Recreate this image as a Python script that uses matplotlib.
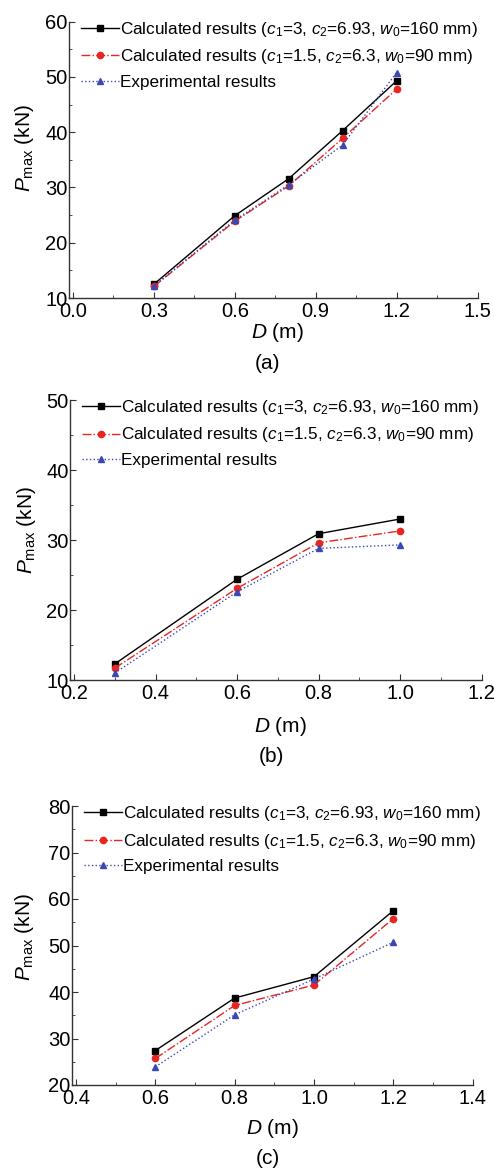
import matplotlib
matplotlib.use('Agg')
import matplotlib.pyplot as plt
from matplotlib.ticker import MultipleLocator

plt.rcParams['font.family'] = ['Liberation Sans', 'DejaVu Sans']
plt.rcParams['mathtext.fontset'] = 'custom'
plt.rcParams['mathtext.rm'] = 'Liberation Sans'
plt.rcParams['mathtext.it'] = 'Liberation Sans:italic'

# panel (a)
d_a = [0.3, 0.6, 0.8, 1.0, 1.2]
calc1_a = [12.5, 24.9, 31.6, 40.3, 49.3]
calc2_a = [12.1, 23.9, 30.3, 38.9, 47.8]
exp_a = [12.2, 24.1, 30.5, 37.7, 50.8]

# panel (b)
d_b = [0.3, 0.6, 0.8, 1.0]
calc1_b = [12.3, 24.4, 30.9, 33.0]
calc2_b = [11.7, 23.1, 29.6, 31.3]
exp_b = [11.0, 22.6, 28.8, 29.3]

# panel (c)
d_c = [0.6, 0.8, 1.0, 1.2]
calc1_c = [27.4, 38.7, 43.3, 57.5]
calc2_c = [25.7, 37.1, 41.5, 55.8]
exp_c = [23.9, 35.1, 42.8, 50.7]

lab1 = r'Calculated results ($c_1$=3, $c_2$=6.93, $w_0$=160 mm)'
lab2 = r'Calculated results ($c_1$=1.5, $c_2$=6.3, $w_0$=90 mm)'
lab3 = 'Experimental results'

W, H = 494, 1174
fig = plt.figure(figsize=(W / 100, H / 100), dpi=100)


def make_ax(left, right, top, bottom):
    return fig.add_axes([left / W, 1 - bottom / H, (right - left) / W, (bottom - top) / H])


def ftext(x, y, s, **kw):
    # place text by pixel position from top-left
    fig.text(x / W, 1 - y / H, s, ha='center', va='center', fontsize=15, **kw)


def draw(ax, d, s1, s2, s3, xlim, xmaj, ylim, ymaj):
    ax.plot(d, s1, '-', color='black', lw=1, marker='s', ms=4.5, label=lab1)
    ax.plot(d, s2, '-.', color='#e8251f', lw=1, marker='o', ms=4.5, label=lab2)
    ax.plot(d, s3, ':', color='#3a48b5', lw=1, marker='^', ms=5, label=lab3)
    ax.set_xlim(*xlim)
    ax.set_ylim(*ylim)
    ax.xaxis.set_major_locator(MultipleLocator(xmaj))
    ax.xaxis.set_minor_locator(MultipleLocator(xmaj / 2))
    ax.yaxis.set_major_locator(MultipleLocator(ymaj))
    ax.yaxis.set_minor_locator(MultipleLocator(ymaj / 2))
    for s in ['top', 'right']:
        ax.spines[s].set_visible(False)
    for s in ['left', 'bottom']:
        ax.spines[s].set_color('#333333')
        ax.spines[s].set_linewidth(1)
    ax.tick_params(which='both', direction='in', color='#333333', labelsize=14.5)
    ax.tick_params(axis='x', pad=3)
    ax.tick_params(axis='y', pad=1)
    ax.tick_params(which='major', length=4)
    ax.tick_params(which='minor', length=2.5)
    ax.legend(loc='upper left', bbox_to_anchor=(0.0, 1.05), frameon=False, fontsize=12.3,
              handlelength=2.2, handletextpad=0.1, labelspacing=0.5, borderaxespad=0.3)


ax_a = make_ax(69, 477.5, 21.7, 298)
draw(ax_a, d_a, calc1_a, calc2_a, exp_a, (-0.015, 1.5), 0.3, (10, 60), 10)
ftext(25, 148, r'$P_{\rm max}$ (kN)', rotation=90)
ftext(277, 332, r'$D$ (m)')
ftext(267, 363, '(a)')

ax_b = make_ax(70, 481.7, 400, 680)
draw(ax_b, d_b, calc1_b, calc2_b, exp_b, (0.19, 1.2), 0.2, (10, 50), 10)
ftext(27, 530, r'$P_{\rm max}$ (kN)', rotation=90)
ftext(280, 727, r'$D$ (m)')
ftext(271, 757, '(b)')

ax_c = make_ax(72, 472.7, 806, 1085)
draw(ax_c, d_c, calc1_c, calc2_c, exp_c, (0.39, 1.4), 0.2, (20, 80), 10)
ftext(24, 937, r'$P_{\rm max}$ (kN)', rotation=90)
ftext(272, 1128, r'$D$ (m)')
ftext(268, 1158, '(c)')

fig.savefig('out.png', dpi=100)
